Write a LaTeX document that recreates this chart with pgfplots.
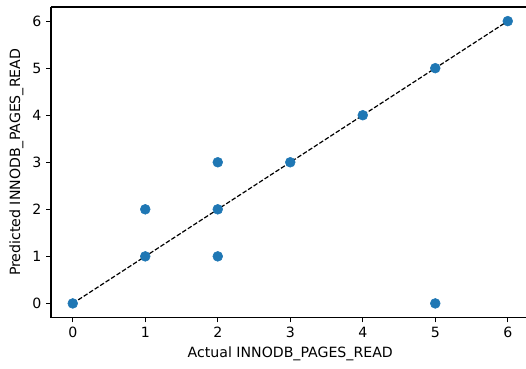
\documentclass[border=0pt]{standalone}
\usepackage{pgfplots}
\pgfplotsset{compat=1.18}
\usepackage{fontspec}
\setmainfont{DejaVu Sans}
\definecolor{tabblue}{HTML}{1F77B4}
\begin{document}
\begin{tikzpicture}
\useasboundingbox (-38.25pt,-38.25pt) rectangle (356.25pt,238.15pt);
\begin{axis}[
  at={(0pt,0pt)}, anchor=south west,
  width=358.9pt, height=232.9pt, scale only axis,
  xmin=-0.3, xmax=6.3, ymin=-0.3, ymax=6.3,
  xtick={0,...,6}, ytick={0,...,6},
  tick align=outside, tick pos=left,
  major tick length=3.6pt,
  axis x line*=bottom, axis y line*=left,
  axis line style={line width=0.8pt, -},
  every tick/.style={line width=0.8pt, black},
  /pgf/number format/assume math mode=true,
  ticklabel style={font=\fontsize{10.6}{12}\selectfont},
  label style={font=\fontsize{10.6}{12}\selectfont},
  xlabel={Actual INNODB\_PAGES\_READ},
  ylabel={Predicted INNODB\_PAGES\_READ},
  clip=false,
]
\addplot[only marks, mark=*, mark size=3.7pt, color=tabblue, mark options={draw=tabblue, fill=tabblue}] coordinates {
(0,0) (1,1) (1,2) (2,1) (2,2) (2,3) (3,3) (4,4) (5,5) (5,0) (6,6)
};
\addplot[black, line width=0.9pt, dash pattern=on 3.4pt off 1.5pt] coordinates {(0,0) (6,6)};
\draw[line width=0.8pt] (rel axis cs:0,1) -- (rel axis cs:1.02,1);
\end{axis}
\end{tikzpicture}
\end{document}
